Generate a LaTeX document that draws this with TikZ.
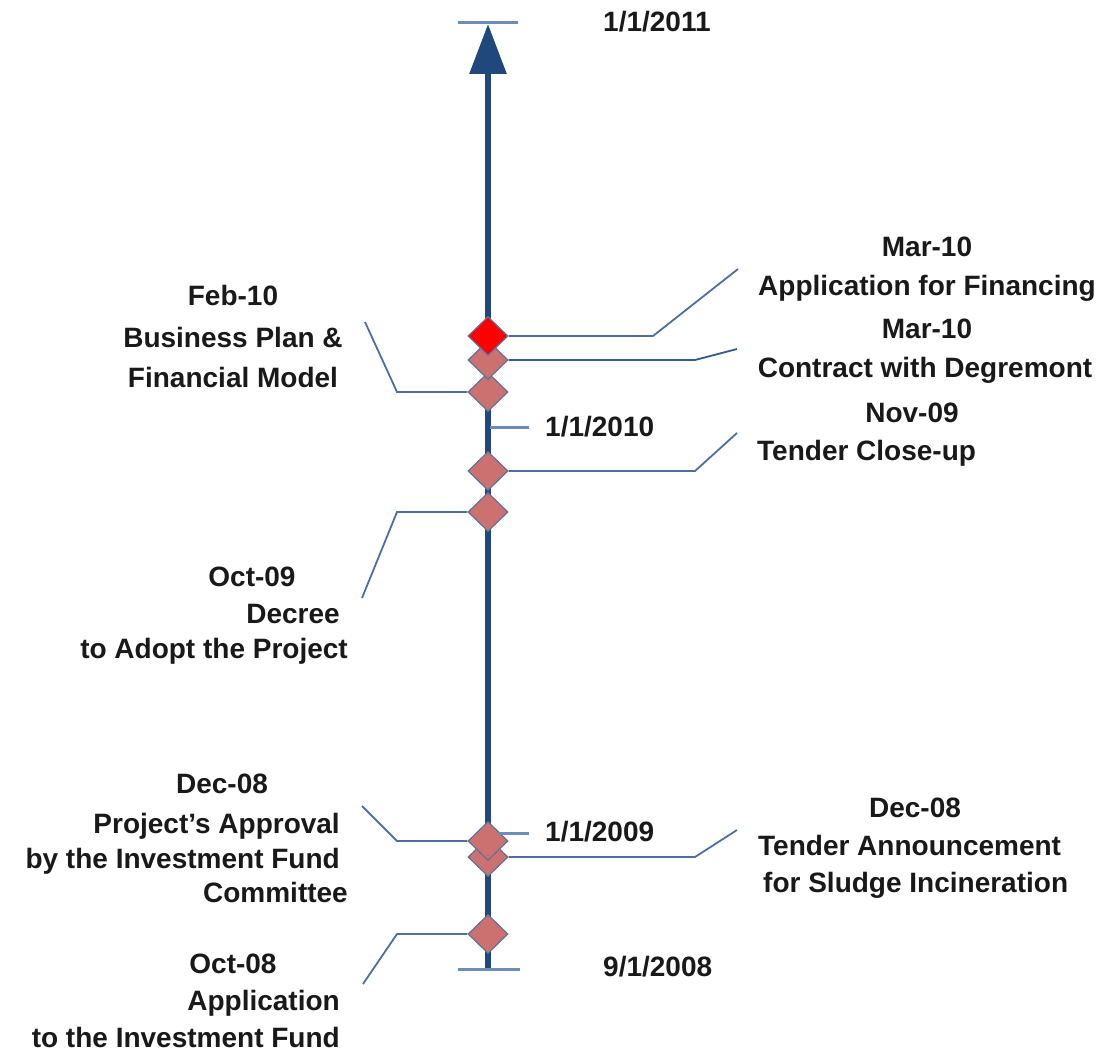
\documentclass[tikz,border=0pt]{standalone}
\usepackage{fontspec}
\setmainfont{Liberation Sans}[Ligatures=ResetAll]
\usetikzlibrary{shapes.geometric,arrows.meta}
\definecolor{axisblue}{RGB}{31,73,125}
\definecolor{leader}{RGB}{79,110,160}
\definecolor{tickblue}{RGB}{110,140,185}
\definecolor{msfill}{RGB}{205,112,112}
\definecolor{msedge}{RGB}{95,115,155}
\definecolor{txt}{RGB}{25,25,25}
\begin{document}
\begin{tikzpicture}[x=1pt,y=-1pt,
  ms/.style={diamond,draw=msedge,line width=1.2pt,fill=msfill,minimum width=40pt,minimum height=39pt,inner sep=0pt},
  msred/.style={ms,fill=red},
  lbl/.style={font=\bfseries\fontsize{28}{34}\selectfont,text=txt,inner sep=0pt},
  leaderline/.style={draw=leader,line width=1.8pt},
  tickline/.style={draw=tickblue,line width=3pt}]
\useasboundingbox (0,0) rectangle (1107,1051);

% axis
\coordinate (axbot) at (488,969);
\coordinate (axtop) at (488,24);
\draw[axisblue,line width=6pt,-{Triangle[length=50pt,width=36pt]}] (axbot) -- (axtop);
\coordinate (ttl) at (458,23); \coordinate (ttr) at (518,23);
\coordinate (tbl) at (458,969); \coordinate (tbr) at (520,969);
\draw[tickline] (ttl) -- (ttr);
\draw[tickline] (tbl) -- (tbr);

% milestones, bottom to top
\node[ms] (d8) at (488,934) {};
\node[ms] (d7) at (488,857) {};
\node[ms] (d6) at (488,841) {};
\node[ms] (d5) at (488,512) {};
\node[ms] (d4) at (488,471) {};
\node[ms] (d3) at (488,392) {};
\node[ms] (d2) at (488,360) {};
\node[msred] (d1) at (488,336) {};

% leaders
\coordinate (b1) at (653,336); \coordinate (e1) at (738,269);
\draw[leaderline] (d1.east) -- (b1) -- (e1);
\coordinate (b2) at (695,360); \coordinate (e2) at (737,349);
\draw[leaderline,draw=axisblue!90] (d2.east) -- (b2) -- (e2);
\coordinate (b3) at (397,392); \coordinate (e3) at (365,322);
\draw[leaderline] (d3.west) -- (b3) -- (e3);
\coordinate (b4) at (695,471); \coordinate (e4) at (737,433);
\draw[leaderline] (d4.east) -- (b4) -- (e4);
\coordinate (b5) at (397,512); \coordinate (e5) at (362,598);
\draw[leaderline] (d5.west) -- (b5) -- (e5);
\coordinate (b6) at (397,841); \coordinate (e6) at (362,806);
\draw[leaderline] (d6.west) -- (b6) -- (e6);
\coordinate (b7) at (695,857); \coordinate (e7) at (737,830);
\draw[leaderline] (d7.east) -- (b7) -- (e7);
\coordinate (b8) at (397,934); \coordinate (e8) at (363,984);
\draw[leaderline] (d8.west) -- (b8) -- (e8);

% year ticks
\coordinate (y10a) at (490,427); \coordinate (y10b) at (529,427);
\draw[tickline] (y10a) -- (y10b);
\coordinate (y09a) at (498,833); \coordinate (y09b) at (529,833);
\draw[tickline] (y09a) -- (y09b);

% date labels
\node[lbl,anchor=base west] (t2011) at (603,32) {1/1/2011};
\node[lbl,anchor=base west] (t2010) at (545,436) {1/1/2010};
\node[lbl,anchor=base west] (t2009) at (545,841) {1/1/2009};
\node[lbl,anchor=base west] (t2008) at (603,976) {9/1/2008};

% event labels
\node[lbl,anchor=base] (l1a) at (927,256) {Mar-10};
\node[lbl,anchor=base] (l1b) at (927,295) {Application for Financing};
\node[lbl,anchor=base] (l2a) at (927,338) {Mar-10};
\node[lbl,anchor=base] (l2b) at (925,377) {Contract with Degremont};
\node[lbl,anchor=base] (l4a) at (912,422) {Nov-09};
\node[lbl,anchor=base west] (l4b) at (757,460) {Tender Close-up};
\node[lbl,anchor=base] (l3a) at (233,305) {Feb-10};
\node[lbl,anchor=base] (l3b) at (233,347) {Business Plan \&};
\node[lbl,anchor=base] (l3c) at (233,387) {Financial Model};
\node[lbl,anchor=base] (l5a) at (252,586) {Oct-09};
\node[lbl,anchor=base east] (l5b) at (340,623) {Decree};
\node[lbl,anchor=base east] (l5c) at (348,658) {to Adopt the Project};
\node[lbl,anchor=base] (l6a) at (222,793) {Dec-08};
\node[lbl,anchor=base east] (l6b) at (340,833) {Project's Approval};
\node[lbl,anchor=base east] (l6c) at (340,868) {by the Investment Fund};
\node[lbl,anchor=base east] (l6d) at (348,902) {Committee};
\node[lbl,anchor=base] (l7a) at (915,817) {Dec-08};
\node[lbl,anchor=base west] (l7b) at (758,855) {Tender Announcement};
\node[lbl,anchor=base west] (l7c) at (763,892) {for Sludge Incineration};
\node[lbl,anchor=base] (l8a) at (233,973) {Oct-08};
\node[lbl,anchor=base east] (l8b) at (340,1010) {Application};
\node[lbl,anchor=base east] (l8c) at (340,1047) {to the Investment Fund};
\end{tikzpicture}
\end{document}
